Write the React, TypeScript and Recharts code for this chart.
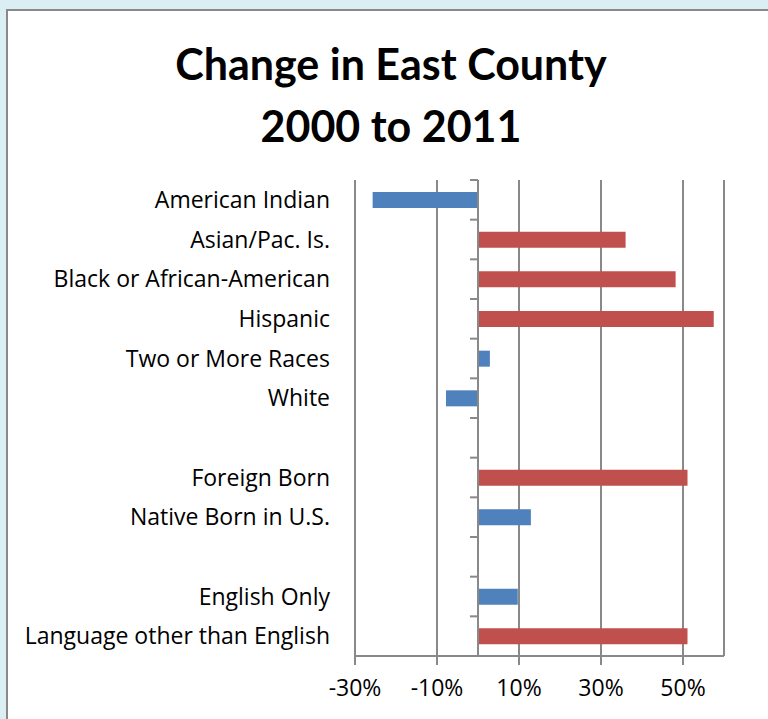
import React from 'react';
import { BarChart, Bar, XAxis, YAxis, CartesianGrid, ReferenceLine } from 'recharts';

const categories = [
  'American Indian',
  'Asian/Pac. Is.',
  'Black or African-American',
  'Hispanic',
  'Two or More Races',
  'White',
  '',
  'Foreign Born',
  'Native Born in U.S.',
  '',
  'English Only',
  'Language other than English',
];
const blueValues: (number | null)[] = [-25.7, null, null, null, 2.9, -7.8, null, null, 12.9, null, 9.7, null];
const redValues: (number | null)[] = [null, 36.0, 48.2, 57.5, null, null, null, 51.1, null, null, null, 51.1];
const xTicks = [-30, -10, 10, 30, 50];
const X_MIN = -30;
const X_MAX = 60;

const titleLines = ['Change in East County', '2000 to 2011'];

const data = categories.map((c, i) => ({
  key: c || `gap${i}`,
  label: c,
  blue: blueValues[i],
  red: redValues[i],
}));

const W = 768;
const H = 719;
const PLOT_LEFT = 355;
const PLOT_RIGHT = 724;
const PLOT_TOP = 180;
const PLOT_BOTTOM = 656;
const XAXIS_H = 40;
const LABEL_RIGHT = 330;
const AXIS_GRAY = '#898989';
const TITLE_FONT = 'Lato, "Open Sans", sans-serif';
const FONT = '"Open Sans", Lato, sans-serif';

function CategoryTick(props: any) {
  const { y, payload, index } = props;
  const i = payload && typeof payload.index === 'number' ? payload.index : index;
  const band = (PLOT_BOTTOM - PLOT_TOP) / categories.length;
  const zx = PLOT_LEFT + ((0 - X_MIN) / (X_MAX - X_MIN)) * (PLOT_RIGHT - PLOT_LEFT);
  return (
    <g>
      <text x={LABEL_RIGHT} y={y + 8} textAnchor="end" fontSize={23} fill="#000" fontFamily={FONT}>
        {categories[i]}
      </text>
      <line x1={zx - 8} x2={zx} y1={y - band / 2} y2={y - band / 2} stroke={AXIS_GRAY} strokeWidth={2} />
      {i === categories.length - 1 && (
        <line x1={zx - 8} x2={zx} y1={y + band / 2} y2={y + band / 2} stroke={AXIS_GRAY} strokeWidth={2} />
      )}
    </g>
  );
}

export default function App() {
  return (
    <div
      style={{
        position: 'fixed',
        left: 0,
        top: 0,
        width: W,
        height: H,
        background: '#DBEEF4',
        overflow: 'hidden',
        fontFamily: FONT,
      }}
    >
      <div
        style={{
          position: 'absolute',
          left: 6,
          top: 9,
          width: 820,
          height: 800,
          background: '#fff',
          borderLeft: `2px solid ${AXIS_GRAY}`,
          borderTop: `2px solid ${AXIS_GRAY}`,
        }}
      />
      <svg width={W} height={H} style={{ position: 'absolute', left: 0, top: 0 }}>
        <text x={391} y={80} textAnchor="middle" fontSize={43} fontWeight={700} fontFamily={TITLE_FONT} fill="#000">
          {titleLines[0]}
        </text>
        <text x={391} y={142} textAnchor="middle" fontSize={43} fontWeight={700} fontFamily={TITLE_FONT} fill="#000">
          {titleLines[1]}
        </text>
      </svg>
      <div style={{ position: 'absolute', left: 0, top: 0 }}>
        <BarChart
          width={W}
          height={H}
          data={data}
          layout="vertical"
          margin={{ top: PLOT_TOP, right: W - PLOT_RIGHT, left: 0, bottom: H - PLOT_BOTTOM - XAXIS_H }}
        >
          <CartesianGrid horizontal={false} stroke={AXIS_GRAY} strokeWidth={2} />
          <XAxis
            type="number"
            domain={[X_MIN, X_MAX]}
            ticks={xTicks}
            tickFormatter={(v: number) => `${v}%`}
            height={XAXIS_H}
            axisLine={{ stroke: AXIS_GRAY, strokeWidth: 2 }}
            tickLine={{ stroke: AXIS_GRAY, strokeWidth: 2 }}
            tickSize={9}
            tickMargin={15}
            tick={{ fontSize: 23, fill: '#000', fontFamily: FONT }}
            interval={0}
          />
          <YAxis
            type="category"
            dataKey="key"
            width={PLOT_LEFT}
            axisLine={false}
            tickLine={false}
            tick={<CategoryTick />}
            interval={0}
          />
          <Bar dataKey="blue" stackId="a" fill="#4F81BD" barSize={16} isAnimationActive={false} />
          <Bar dataKey="red" stackId="a" fill="#C0504D" barSize={16} isAnimationActive={false} />
          <ReferenceLine x={0} stroke={AXIS_GRAY} strokeWidth={2} ifOverflow="visible" />
        </BarChart>
      </div>
    </div>
  );
}
